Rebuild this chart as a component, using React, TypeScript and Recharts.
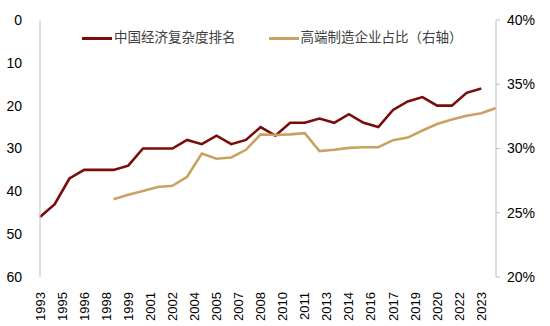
import { CartesianGrid, Legend, Line, LineChart, XAxis, YAxis } from "recharts";

const RANK_YEARS = [
  1993, 1994, 1995, 1996, 1997, 1998, 1999, 2000, 2001, 2002, 2003, 2004, 2005, 2006, 2007, 2008,
  2009, 2010, 2011, 2012, 2013, 2014, 2015, 2016, 2017, 2018, 2019, 2020, 2021, 2022, 2023,
];
const RANKS = [
  46, 43, 37, 35, 35, 35, 34, 30, 30, 30, 28, 29, 27, 29, 28, 25, 27, 24, 24, 23, 24, 22, 24, 25,
  21, 19, 18, 20, 20, 17, 16,
];

const SHARE_YEARS = [
  1998, 1999, 2000, 2001, 2002, 2003, 2004, 2005, 2006, 2007, 2008, 2009, 2010, 2011, 2012, 2013,
  2014, 2015, 2016, 2017, 2018, 2019, 2020, 2021, 2022, 2023, 2024,
];
const SHARES = [
  26.05, 26.4, 26.7, 27.0, 27.1, 27.8, 29.6, 29.2, 29.3, 29.9, 31.1, 31.05, 31.1, 31.2, 29.8, 29.9,
  30.05, 30.1, 30.1, 30.65, 30.85, 31.4, 31.9, 32.25, 32.55, 32.75, 33.15,
];

const X_TICKS = [
  1993, 1994.5, 1996, 1997.5, 1999, 2000.5, 2002, 2003.5, 2005, 2006.5, 2008, 2009.5, 2011, 2012.5,
  2014, 2015.5, 2017, 2018.5, 2020, 2021.5, 2023,
];
const RANK_TICKS = [0, 10, 20, 30, 40, 50, 60];
const SHARE_TICKS = [20, 25, 30, 35, 40];

const RANK_NAME = "中国经济复杂度排名";
const SHARE_NAME = "高端制造企业占比（右轴）";

const RED = "#7a0c0c";
const TAN = "#c9a261";
const FONT = "'Liberation Sans', Arial, 'Noto Sans CJK SC', sans-serif";

const allYears = Array.from(new Set([...RANK_YEARS, ...SHARE_YEARS])).sort((a, b) => a - b);
const rows = allYears.map((year) => {
  const ri = RANK_YEARS.indexOf(year);
  const si = SHARE_YEARS.indexOf(year);
  return {
    year,
    rank: ri >= 0 ? RANKS[ri] : null,
    share: si >= 0 ? SHARES[si] : null,
  };
});

function YearTick({ x, y, payload }: any) {
  return (
    <text
      x={0}
      y={0}
      transform={`translate(${x},${y + 7}) rotate(-90)`}
      textAnchor="end"
      dominantBaseline="central"
      fontSize={13}
      fill="#000"
      fontFamily={FONT}
    >
      {Math.round(payload.value)}
    </text>
  );
}

function renderLegend() {
  const item = (color: string, label: string, gap: number) => (
    <div style={{ display: "flex", alignItems: "center", marginRight: gap }}>
      <div style={{ width: 30, height: 3, background: color, marginRight: 2 }} />
      <span>{label}</span>
    </div>
  );
  return (
    <div
      style={{
        display: "flex",
        paddingLeft: 82,
        fontSize: 13.5,
        color: "#404040",
        fontFamily: FONT,
        lineHeight: "16px",
      }}
    >
      {item(RED, RANK_NAME, 33)}
      {item(TAN, SHARE_NAME, 0)}
    </div>
  );
}

export default function App() {
  return (
    <div style={{ position: "absolute", left: 0, top: 0, background: "#fff" }}>
      <LineChart
        width={550}
        height={326}
        data={rows}
        margin={{ top: 20, right: 0, bottom: 0, left: 0 }}
      >
        <CartesianGrid vertical={false} horizontal={false} />
        <XAxis
          dataKey="year"
          type="number"
          domain={[1993, 2024]}
          ticks={X_TICKS}
          interval={0}
          axisLine={false}
          tickLine={false}
          height={49}
          tick={<YearTick />}
        />
        <YAxis
          yAxisId="rank"
          domain={[0, 60]}
          ticks={RANK_TICKS}
          reversed
          width={40}
          axisLine={{ stroke: "#bfbfbf" }}
          tickLine={false}
          tickMargin={12}
          tick={{ fontSize: 14, fill: "#000", fontFamily: FONT }}
        />
        <YAxis
          yAxisId="share"
          orientation="right"
          domain={[20, 40]}
          ticks={SHARE_TICKS}
          width={54}
          axisLine={{ stroke: "#bfbfbf" }}
          tickLine={{ stroke: "#bfbfbf" }}
          tickSize={4}
          tickMargin={7}
          tickFormatter={(v) => `${v}%`}
          tick={{ fontSize: 14, fill: "#000", fontFamily: FONT }}
        />
        <Legend
          verticalAlign="middle"
          align="center"
          layout="horizontal"
          content={renderLegend}
          wrapperStyle={{ top: 30, left: 0, width: 550 }}
        />
        <Line
          yAxisId="rank"
          dataKey="rank"
          name={RANK_NAME}
          stroke={RED}
          strokeWidth={2.6}
          dot={false}
          isAnimationActive={false}
        />
        <Line
          yAxisId="share"
          dataKey="share"
          name={SHARE_NAME}
          stroke={TAN}
          strokeWidth={2.6}
          dot={false}
          isAnimationActive={false}
        />
      </LineChart>
    </div>
  );
}
